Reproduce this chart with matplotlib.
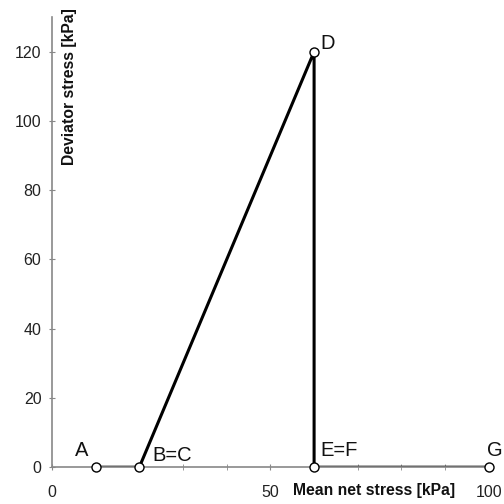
import matplotlib
matplotlib.use("Agg")
import matplotlib.pyplot as plt
from matplotlib.ticker import MultipleLocator

plt.rcParams['font.family'] = ['Liberation Sans', 'DejaVu Sans']

labels = ['A', 'B=C', 'D', 'E=F', 'G']
mean_net = [10, 20, 60, 60, 100]
deviator = [0, 0, 120, 0, 0]
# label offsets in pixels (dx, dy)
offsets = [(-21, 11), (13, 6), (6, 3), (6, 11), (-2, 11)]

fig = plt.figure(figsize=(5.04, 5.04), dpi=100)
ax = fig.add_axes([0.103, 0.073, 0.867, 0.893])

ax.plot(mean_net, deviator, color='black', lw=2.2, zorder=2)
ax.plot(mean_net, deviator, 'o', ms=6.5, mfc='white', mec='black', mew=1.0,
        zorder=3, clip_on=False)

for lab, x, y, off in zip(labels, mean_net, deviator, offsets):
    ax.annotate(lab, (x, y), xytext=off, textcoords='offset pixels',
                fontsize=14.5, ha='left', va='baseline', color='#111111',
                annotation_clip=False)

ax.set_xlim(0, 100)
ax.set_ylim(0, 130)
ax.set_xticks([0, 50, 100])
ax.xaxis.set_minor_locator(MultipleLocator(10))
ax.set_yticks(range(0, 121, 20))

for s in ['top', 'right']:
    ax.spines[s].set_visible(False)
for s in ['left', 'bottom']:
    ax.spines[s].set_color('#888888')
    ax.spines[s].set_linewidth(1.2)
ax.tick_params(axis='both', which='both', colors='#888888', labelcolor='#222222',
               labelsize=11.5, direction='inout', length=5)
ax.tick_params(axis='x', which='major', pad=10)
ax.tick_params(axis='y', which='major', pad=5)

ax.text(0.737, -0.051, 'Mean net stress [kPa]', transform=ax.transAxes,
        ha='center', va='center', fontsize=11.3, fontweight='bold', color='#111111')
ax.text(0.041, 1.02, 'Deviator stress [kPa]', transform=ax.transAxes,
        ha='center', va='top', rotation=90, fontsize=11.3, fontweight='bold', color='#111111')

fig.savefig('out.png', dpi=100)
